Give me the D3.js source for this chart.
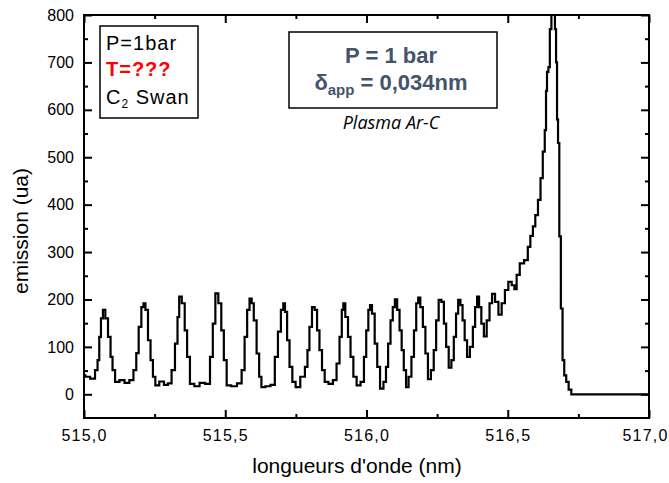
<!DOCTYPE html>
<html>
<head>
<meta charset="utf-8">
<script src="https://cdn.jsdelivr.net/npm/d3@7"></script>
<style>
  html, body { margin: 0; padding: 0; background: #fff; }
  svg { display: block; }
</style>
</head>
<body>
<svg id="chart" width="669" height="483"></svg>
<script>
// C2 Swan band head spectrum, emission vs wavelength
const wavelengths = [
  515.000, 515.010, 515.033, 515.045, 515.051, 515.057, 515.063, 515.071, 515.080, 515.090,
  515.098, 515.104, 515.116, 515.135, 515.152, 515.169, 515.181, 515.189, 515.198, 515.208,
  515.213, 515.222, 515.231, 515.240, 515.248, 515.257, 515.276, 515.290, 515.304, 515.316,
  515.328, 515.334, 515.340, 515.352, 515.361, 515.369, 515.381, 515.400, 515.418, 515.440,
  515.452, 515.460, 515.470, 515.481, 515.491, 515.499, 515.511, 515.531, 515.552, 515.564,
  515.573, 515.582, 515.590, 515.597, 515.605, 515.617, 515.623, 515.633, 515.651, 515.669,
  515.682, 515.691, 515.703, 515.708, 515.715, 515.723, 515.732, 515.743, 515.755, 515.776,
  515.788, 515.794, 515.802, 515.812, 515.821, 515.829, 515.838, 515.847, 515.857, 515.874,
  515.888, 515.900, 515.909, 515.916, 515.920, 515.930, 515.939, 515.948, 515.959, 515.971,
  515.987, 515.995, 516.003, 516.010, 516.015, 516.024, 516.034, 516.042, 516.054, 516.066,
  516.072, 516.081, 516.089, 516.097, 516.104, 516.113, 516.121, 516.128, 516.136, 516.144,
  516.154, 516.164, 516.172, 516.180, 516.186, 516.195, 516.204, 516.213, 516.222, 516.234,
  516.242, 516.251, 516.260, 516.270, 516.278, 516.286, 516.296, 516.305, 516.313, 516.321,
  516.328, 516.337, 516.343, 516.352, 516.360, 516.372, 516.381, 516.388, 516.395, 516.402,
  516.411, 516.420, 516.431, 516.440, 516.449, 516.461, 516.473, 516.484, 516.496, 516.508,
  516.520, 516.527, 516.536, 516.549, 516.567, 516.575, 516.585, 516.593, 516.602, 516.612,
  516.620, 516.628, 516.634, 516.637, 516.641, 516.647, 516.651, 516.658, 516.665, 516.669,
  516.673, 516.676, 516.680, 516.685, 516.691, 516.697, 516.703, 516.711, 516.720, 516.730,
  517.000
];
const emission = [
  40, 37, 33, 51, 72, 121, 160, 178, 160, 121,
  79, 51, 26, 30, 24, 30, 51, 87, 142, 184,
  192, 178, 114, 72, 37, 19, 27, 20, 23, 51,
  107, 163, 206, 192, 135, 79, 22, 17, 24, 22,
  79, 149, 213, 192, 135, 72, 19, 17, 23, 51,
  121, 178, 202, 192, 156, 86, 37, 15, 17, 20,
  79, 132, 178, 192, 174, 114, 58, 26, 15, 37,
  58, 93, 142, 184, 178, 135, 93, 51, 26, 22,
  30, 65, 121, 178, 192, 163, 121, 79, 37, 19,
  26, 79, 135, 178, 188, 170, 107, 58, 12, 26,
  58, 107, 156, 184, 200, 178, 135, 93, 51, 15,
  37, 79, 135, 192, 204, 184, 142, 86, 32, 51,
  93, 156, 199, 195, 149, 100, 56, 72, 121, 170,
  199, 188, 156, 114, 79, 100, 142, 184, 206, 184,
  149, 122, 156, 192, 212, 195, 168, 192, 220, 237,
  230, 222, 252, 276, 283, 311, 334, 354, 378, 410,
  456, 512, 557, 640, 680, 690, 770, 840, 830, 770,
  700, 580, 530, 333, 181, 72, 40, 26, 10, 0,
  0
];
const xTickValues = [515.0, 515.5, 516.0, 516.5, 517.0];
const xTickLabels = ["515,0", "515,5", "516,0", "516,5", "517,0"];
const yTickValues = [0, 100, 200, 300, 400, 500, 600, 700, 800];

const svg = d3.select("#chart");
const plotLeft = 84, plotRight = 649, plotTop = 15, plotBottom = 418;

const x = d3.scaleLinear().domain([515.0, 517.0]).range([plotLeft, plotRight]);
const y = d3.scaleLinear().domain([-50, 800]).range([plotBottom, plotTop]);

const font = "'Liberation Sans', Arial, sans-serif";

// clip region for the spectrum
svg.append("defs").append("clipPath").attr("id", "plotClip")
  .append("rect").attr("x", plotLeft).attr("y", plotTop)
  .attr("width", plotRight - plotLeft).attr("height", plotBottom - plotTop);

const points = wavelengths.map((w, i) => [w, emission[i]]);
const line = d3.line().curve(d3.curveStep).x(d => x(d[0])).y(d => y(d[1]));

svg.append("path")
  .datum(points)
  .attr("clip-path", "url(#plotClip)")
  .attr("fill", "none")
  .attr("stroke", "#000")
  .attr("stroke-width", 2.2)
  .attr("stroke-linejoin", "miter")
  .attr("d", line);

// axes: ticks point into the plot on all four sides
const xMinor = d3.range(515.25, 517.0, 0.5);
const yMinor = d3.range(50, 800, 100);

function styleAxis(g) {
  g.select(".domain").remove();
  g.selectAll(".tick line").attr("stroke", "#000").attr("stroke-width", 2);
  g.selectAll(".tick text").attr("font-family", font).attr("fill", "#000");
}

// bottom
const xAxisG = svg.append("g").attr("transform", `translate(0,${plotBottom})`)
  .call(d3.axisBottom(x).tickValues(xTickValues).tickFormat((d, i) => xTickLabels[i])
    .tickSizeInner(-8).tickSizeOuter(0).tickPadding(12))
  .call(styleAxis);
xAxisG.selectAll(".tick text").attr("font-size", 16).attr("letter-spacing", 1.2);
// keep the last label inside the page
xAxisG.selectAll(".tick text").filter(d => d === 517.0).attr("dx", -4);
svg.append("g").attr("transform", `translate(0,${plotBottom})`)
  .call(d3.axisBottom(x).tickValues(xMinor).tickFormat("").tickSizeInner(-4).tickSizeOuter(0))
  .call(styleAxis);
// top
svg.append("g").attr("transform", `translate(0,${plotTop})`)
  .call(d3.axisTop(x).tickValues(xTickValues).tickFormat("").tickSizeInner(-8).tickSizeOuter(0))
  .call(styleAxis);
svg.append("g").attr("transform", `translate(0,${plotTop})`)
  .call(d3.axisTop(x).tickValues(xMinor).tickFormat("").tickSizeInner(-4).tickSizeOuter(0))
  .call(styleAxis);
// left
const yAxisG = svg.append("g").attr("transform", `translate(${plotLeft},0)`)
  .call(d3.axisLeft(y).tickValues(yTickValues).tickFormat(d3.format("d"))
    .tickSizeInner(-8).tickSizeOuter(0).tickPadding(10))
  .call(styleAxis);
yAxisG.selectAll(".tick text").attr("font-size", 16);
svg.append("g").attr("transform", `translate(${plotLeft},0)`)
  .call(d3.axisLeft(y).tickValues(yMinor).tickFormat("").tickSizeInner(-4).tickSizeOuter(0))
  .call(styleAxis);
// right
svg.append("g").attr("transform", `translate(${plotRight},0)`)
  .call(d3.axisRight(y).tickValues(yTickValues).tickFormat("").tickSizeInner(-8).tickSizeOuter(0))
  .call(styleAxis);
svg.append("g").attr("transform", `translate(${plotRight},0)`)
  .call(d3.axisRight(y).tickValues(yMinor).tickFormat("").tickSizeInner(-4).tickSizeOuter(0))
  .call(styleAxis);

// frame
svg.append("rect")
  .attr("x", plotLeft).attr("y", plotTop)
  .attr("width", plotRight - plotLeft).attr("height", plotBottom - plotTop)
  .attr("fill", "none").attr("stroke", "#000").attr("stroke-width", 2);

// axis titles
svg.append("text")
  .attr("x", 357).attr("y", 473)
  .attr("text-anchor", "middle")
  .attr("font-family", font).attr("font-size", 21)
  .text("longueurs d'onde (nm)");

svg.append("text")
  .attr("transform", "translate(28,231) rotate(-90)")
  .attr("text-anchor", "middle")
  .attr("font-family", font).attr("font-size", 21)
  .text("emission (ua)");

// legend box: conditions
svg.append("rect")
  .attr("x", 100).attr("y", 26).attr("width", 98).attr("height", 92)
  .attr("fill", "#fff").attr("stroke", "#000").attr("stroke-width", 1.5);
const lg = svg.append("g").attr("font-family", font).attr("font-size", 20);
lg.append("text").attr("x", 106).attr("y", 50).attr("letter-spacing", 1).text("P=1bar");
lg.append("text").attr("x", 106).attr("y", 76).attr("fill", "#ff0000")
  .attr("font-weight", "bold").attr("letter-spacing", 1).text("T=???");
const c2 = lg.append("text").attr("x", 106).attr("y", 104).attr("letter-spacing", 1);
c2.append("tspan").text("C");
c2.append("tspan").attr("font-size", 12).attr("dy", 4).text("2");
c2.append("tspan").attr("dy", -4).text(" Swan");

// info box: pressure and apparatus width
svg.append("rect")
  .attr("x", 289).attr("y", 32).attr("width", 208).attr("height", 76)
  .attr("fill", "#fff").attr("stroke", "#000").attr("stroke-width", 1.5);
const ib = svg.append("g").attr("font-family", font).attr("font-weight", "bold")
  .attr("fill", "#44546A").attr("text-anchor", "middle");
ib.append("text").attr("x", 391).attr("y", 63).attr("font-size", 22).text("P = 1 bar");
const dl = ib.append("text").attr("x", 391).attr("y", 90).attr("font-size", 22);
dl.append("tspan").text("δ");
dl.append("tspan").attr("font-size", 15).attr("dy", 5).text("app");
dl.append("tspan").attr("dy", -5).text(" = 0,034nm");

svg.append("text")
  .attr("x", 391).attr("y", 129)
  .attr("text-anchor", "middle")
  .attr("font-family", "'Open Sans', sans-serif").attr("font-style", "italic")
  .attr("font-size", 18)
  .text("Plasma Ar-C");
</script>
</body>
</html>
